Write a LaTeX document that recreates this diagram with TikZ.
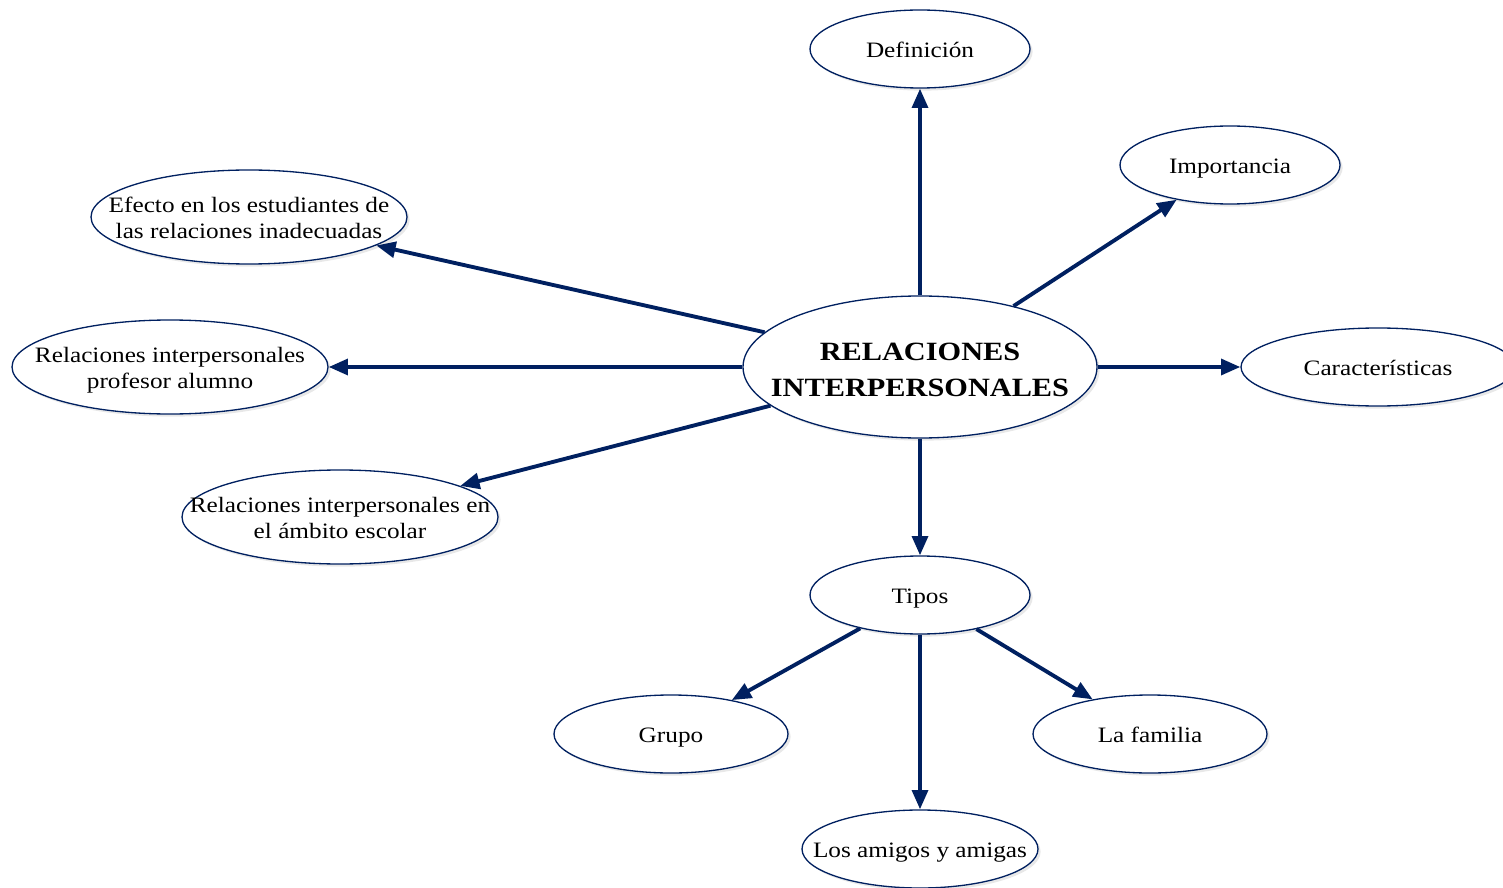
\documentclass[tikz,border=0pt]{standalone}
\usepackage{fontspec}
\setmainfont{Liberation Serif}[FakeStretch=1.15]
\usetikzlibrary{shapes.geometric,arrows.meta,shadows}
\definecolor{navy}{RGB}{0,32,96}

% text that does not widen its ellipse
\newcommand{\intxt}[1]{\smash{\makebox[0pt]{\raisebox{-0.4em}{\begin{tabular}{@{}c@{}}#1\end{tabular}}}}}

\tikzset{
	idea/.style={ellipse,draw=navy,line width=0.75pt,fill=white,inner sep=0pt,
		font=\fontsize{12.5}{14.8}\selectfont,
		drop shadow={shadow xshift=1.5pt,shadow yshift=-1.5pt,opacity=0.18}},
	link/.style={draw=navy,line width=2.2pt,-{Triangle[length=11pt,width=9pt]}}
}

\begin{document}
\begin{tikzpicture}
	\clip (0,0) rectangle (30.06,-17.76);
	\useasboundingbox (0,0) rectangle (30.06,-17.76);
	
	%centre
	\node[idea,minimum width=7.08cm,minimum height=2.84cm,font=\fontsize{15}{20.5}\selectfont\bfseries] (rel) at (18.4,-7.34) {\intxt{RELACIONES\\INTERPERSONALES}};
	
	%upper and right
	\node[idea,minimum width=4.4cm,minimum height=1.56cm] (def) at (18.4,-0.98) {\intxt{Definición}};
	\node[idea,minimum width=4.4cm,minimum height=1.56cm] (imp) at (24.6,-3.3) {\intxt{Importancia}};
	\node[idea,minimum width=5.48cm,minimum height=1.56cm] (car) at (27.56,-7.34) {\intxt{Características}};
	
	%left
	\node[idea,minimum width=6.32cm,minimum height=1.88cm] (efe) at (4.98,-4.34) {\intxt{Efecto en los estudiantes de\\las relaciones inadecuadas}};
	\node[idea,minimum width=6.32cm,minimum height=1.88cm] (pro) at (3.4,-7.34) {\intxt{Relaciones interpersonales\\profesor alumno}};
	\node[idea,minimum width=6.32cm,minimum height=1.88cm] (amb) at (6.8,-10.34) {\intxt{Relaciones interpersonales en\\el ámbito escolar}};
	
	%tipos
	\node[idea,minimum width=4.4cm,minimum height=1.56cm] (tip) at (18.4,-11.9) {\intxt{Tipos}};
	\node[idea,minimum width=4.68cm,minimum height=1.56cm] (gru) at (13.42,-14.68) {\intxt{Grupo}};
	\node[idea,minimum width=4.68cm,minimum height=1.56cm] (fam) at (23.0,-14.68) {\intxt{La familia}};
	\node[idea,minimum width=4.72cm,minimum height=1.56cm] (ami) at (18.4,-16.98) {\intxt{Los amigos y amigas}};
	
	%arrows
	\draw[link] (rel) -- (def);
	\draw[link] (rel) -- (imp);
	\draw[link] (rel) -- (car);
	\draw[link] (rel) -- (efe);
	\draw[link] (rel) -- (pro);
	\draw[link] (rel) -- (amb);
	\draw[link] (rel) -- (tip);
	%
	\draw[link] (tip) -- (gru);
	\draw[link] (tip) -- (ami);
	\draw[link] (tip) -- (fam);
\end{tikzpicture}
\end{document}
